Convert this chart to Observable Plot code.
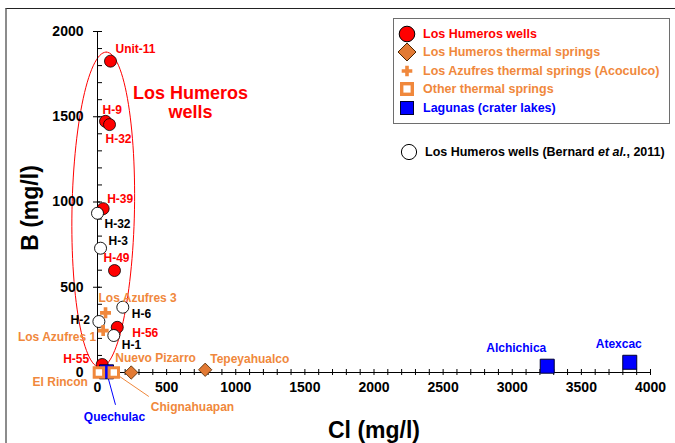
<!DOCTYPE html>
<html>
<head>
<meta charset="utf-8">
<script src="https://cdn.jsdelivr.net/npm/d3@7"></script>
<script src="https://cdn.jsdelivr.net/npm/@observablehq/plot@0.6"></script>
<style>
  html, body { margin: 0; padding: 0; background: #fff; }
  #wrap { position: relative; width: 675px; height: 443px; overflow: hidden; font-family: "Liberation Sans", Arial, sans-serif; }
  #frame { position: absolute; left: 5px; top: 8px; width: 720px; height: 520px; border-left: 2px solid #8c8c8c; border-top: 1px solid #222; box-sizing: border-box; }
  #chart { position: absolute; left: 0; top: 0; }
  #legend { position: absolute; left: 393px; top: 18px; width: 277px; height: 106px; border: 1.5px solid #6e6e6e; box-sizing: border-box; background: #fff; }
  .row { position: absolute; left: 0; height: 18px; width: 275px; }
  .row svg { position: absolute; left: 4px; top: 0; }
  .row span { position: absolute; left: 29px; top: 0; line-height: 18px; font-size: 12.5px; font-weight: bold; white-space: nowrap; }
  #bern { position: absolute; left: 399px; top: 143px; height: 18px; width: 275px; }
  #bern svg { position: absolute; left: 0; top: 0; }
  #bern span { position: absolute; left: 26px; top: 0; line-height: 18px; font-size: 12.5px; font-weight: bold; white-space: nowrap; color: #000; }
</style>
</head>
<body>
<div id="wrap">
  <div id="frame"></div>
  <div id="chart"></div>
  <div id="legend"></div>
  <div id="bern"></div>
</div>
<script>
// ---------------- data ----------------
const wellNames = ["Unit-11", "H-9", "H-32", "H-39", "H-49", "H-56", "H-55"];
const wellCl    = [94, 58, 87, 41, 123, 143, 34];
const wellB     = [1826, 1473, 1454, 961, 598, 265, 47];

const bernardNames = ["H-32", "H-3", "H-6", "H-2", "H-1"];
const bernardCl    = [0, 22, 183, 10, 118];
const bernardB     = [934, 729, 383, 299, 217];

const azufresNames = ["Los Azufres 3", "Los Azufres 1"];
const azufresCl    = [58, 41];
const azufresB     = [350, 246];

const springNames = ["Nuevo Pizarro", "Tepeyahualco"];
const springCl    = [244, 779];
const springB     = [0, 16];

const otherNames = ["El Rincon", "Chignahuapan"];
const otherCl    = [10, 118];
const otherB     = [0, 0];

const lagunaNames = ["Quechulac", "Alchichica", "Atexcac"];
const lagunaCl    = [65, 3253, 3850];
const lagunaB     = [4, 37, 60];

const xMajorTicks = [0, 500, 1000, 1500, 2000, 2500, 3000, 3500, 4000];
const yMajorTicks = [0, 500, 1000, 1500, 2000];
const xMinorStep = 100, yMinorStep = 100;

// outline drawn around the Los Humeros wells (top, bottom, half width in Cl units)
const ellipseTop = [63, 1879];
const ellipseBottom = [20, 29];
const ellipseHalfWidth = 226;

// ---------------- layout ----------------
const W = 675, H = 443;
const mL = 97, mR = 25, mT = 31, mB = 71;
const kx = (W - mL - mR) / 4000, ky = (H - mT - mB) / 2000;

const RED = "#FF0000", ORANGE = "#F0883C", DIAMOND = "#E27A34", BLUE = "#0000FF";
const FONT = "Liberation Sans, Arial, sans-serif";

const rows = (names, cl, b) => names.map((name, i) => ({name, cl: cl[i], b: b[i]}));
const wells = rows(wellNames, wellCl, wellB);
const bernard = rows(bernardNames, bernardCl, bernardB);
const azufres = rows(azufresNames, azufresCl, azufresB);
const springs = rows(springNames, springCl, springB);
const others = rows(otherNames, otherCl, otherB);
const lagunas = rows(lagunaNames, lagunaCl, lagunaB);

// label placement: [anchor, dx, dy] in pixels
const labelLayout = [
  [wells, RED, {"Unit-11": ["start", 5, -12], "H-9": ["start", -3, -11], "H-32": ["start", -4, 15], "H-39": ["start", 4, -9], "H-49": ["start", -11, -12], "H-56": ["start", 15, 6], "H-55": ["end", -13, -5]}],
  [bernard, "#000", {"H-32": ["start", 7, 11], "H-3": ["start", 8, -7], "H-6": ["start", 9, 7], "H-2": ["end", -9, -1], "H-1": ["start", 8, 10]}],
  [azufres, ORANGE, {"Los Azufres 3": ["start", -7, -15], "Los Azufres 1": ["end", -7, 7]}],
  [springs, ORANGE, {"Nuevo Pizarro": ["start", -16, -14], "Tepeyahualco": ["start", 5, -11]}],
  [others, ORANGE, {"El Rincon": ["end", -11, 10], "Chignahuapan": ["start", 37, 35]}],
  [lagunas, BLUE, {"Quechulac": ["middle", 8, 45], "Alchichica": ["start", -61, -18], "Atexcac": ["middle", -11, -18]}]
];

// leader lines: [row, color, start px offset, end px offset]
const leaders = [
  [others[1], ORANGE, [0, 0], [35, 24]],
  [lagunas[0], BLUE, [0, 0], [9, 33]]
];

// ellipse path (parametric outline)
const eC = [(ellipseTop[0] + ellipseBottom[0]) / 2, (ellipseTop[1] + ellipseBottom[1]) / 2];
const eM = [(ellipseTop[0] - ellipseBottom[0]) / 2, (ellipseTop[1] - ellipseBottom[1]) / 2];
const ellipse = d3.range(0, 361, 3).map(a => {
  const t = a * Math.PI / 180;
  return {cl: eC[0] + Math.cos(t) * eM[0] + Math.sin(t) * ellipseHalfWidth, b: eC[1] + Math.cos(t) * eM[1]};
});

const labelMarks = [];
for (const [data, color, layout] of labelLayout) {
  for (const d of data) {
    const [anchor, dx, dy] = layout[d.name];
    labelMarks.push(Plot.text([d], {x: "cl", y: "b", text: "name", textAnchor: anchor, dx, dy,
      fill: color, fontSize: 12, fontWeight: "bold", fontFamily: FONT}));
  }
}
const leaderMarks = leaders.map(([d, color, s, e]) => Plot.link([d], {
  x1: r => r.cl + s[0] / kx, y1: r => r.b - s[1] / ky,
  x2: r => r.cl + e[0] / kx, y2: r => r.b - e[1] / ky,
  stroke: color, strokeWidth: 1
}));

const chart = Plot.plot({
  width: W, height: H,
  marginLeft: mL, marginRight: mR, marginTop: mT, marginBottom: mB,
  x: {domain: [0, 4000]},
  y: {domain: [0, 2000]},
  style: {fontFamily: FONT, background: "transparent", overflow: "visible", color: "#000"},
  marks: [
    Plot.line(ellipse, {x: "cl", y: "b", stroke: RED, strokeWidth: 1, curve: "catmull-rom"}),
    Plot.ruleY([0], {stroke: "#000", strokeWidth: 1}),
    Plot.ruleX([0], {stroke: "#000", strokeWidth: 1}),
    Plot.axisX(d3.range(0, 4001, xMinorStep), {tickSize: 6, dy: -3, tickFormat: () => "", label: null, stroke: "#000"}),
    Plot.axisX(xMajorTicks, {tickSize: 0, tickPadding: 10, tickFormat: d => String(d), fontSize: 14, fontWeight: "bold", label: null, fill: "#000"}),
    Plot.axisY(d3.range(0, 2001, yMinorStep), {tickSize: 5, dx: 5, tickFormat: () => "", label: null, stroke: "#000"}),
    Plot.axisY(yMajorTicks, {tickSize: 7, dx: 3, tickFormat: () => "", label: null, stroke: "#000"}),
    Plot.axisY(yMajorTicks, {tickSize: 0, tickPadding: 14, tickFormat: d => String(d), fontSize: 14, fontWeight: "bold", label: null, fill: "#000"}),
    Plot.text(["Cl (mg/l)"], {frameAnchor: "bottom", textAnchor: "middle", lineAnchor: "middle", dy: 58, fontSize: 23, fontWeight: "bold", fill: "#000"}),
    Plot.text(["B (mg/l)"], {frameAnchor: "left", textAnchor: "middle", lineAnchor: "middle", dx: -67, dy: 6, rotate: -90, fontSize: 23, fontWeight: "bold", fill: "#000"}),
    Plot.text(["Los Humeros\nwells"], {frameAnchor: "top-left", textAnchor: "middle", lineAnchor: "middle", dx: 93, dy: 71, fontSize: 18, lineHeight: 1.06, fontWeight: "bold", fill: RED}),
    ...leaderMarks,
    Plot.dot(wells, {x: "cl", y: "b", r: 6, fill: RED, stroke: "#000", strokeWidth: 0.8}),
    Plot.dot(bernard, {x: "cl", y: "b", r: 6, fill: "#fff", stroke: "#000", strokeWidth: 0.9}),
    Plot.dot(azufres, {x: "cl", y: "b", r: 4.6, symbol: "cross", fill: ORANGE, stroke: "none"}),
    Plot.dot(springs, {x: "cl", y: "b", r: 6, symbol: "diamond2", fill: DIAMOND, stroke: "#4a2500", strokeWidth: 0.8}),
    Plot.dot(lagunas, {x: "cl", y: "b", r: 7.9, symbol: "square", fill: BLUE, stroke: "#000030", strokeWidth: 1}),
    Plot.dot(others, {x: "cl", y: "b", r: 5.3, symbol: "square", fill: "#fff", stroke: ORANGE, strokeWidth: 3}),
    ...labelMarks
  ]
});
document.getElementById("chart").appendChild(chart);

// ---------------- legend ----------------
const legendItems = [
  {label: "Los Humeros wells", color: RED, sym: `<circle cx="9" cy="9" r="7.8" fill="${RED}" stroke="#000" stroke-width="1"/>`},
  {label: "Los Humeros thermal springs", color: ORANGE, sym: `<path d="M9,0 L18,9 L9,18 L0,9 Z" fill="${DIAMOND}" stroke="#4a2500" stroke-width="1"/>`},
  {label: "Los Azufres thermal springs (Acoculco)", color: ORANGE, sym: `<path d="M7.2,3.7h3.6v3.5h3.5v3.6h-3.5v3.5h-3.6v-3.5h-3.5v-3.6h3.5z" fill="${ORANGE}"/>`},
  {label: "Other thermal springs", color: ORANGE, sym: `<rect x="3.7" y="3.7" width="10.6" height="10.6" fill="#fff" stroke="${ORANGE}" stroke-width="3.4"/>`},
  {label: "Lagunas (crater lakes)", color: BLUE, sym: `<rect x="2.5" y="2.5" width="13" height="13" fill="${BLUE}" stroke="#000030" stroke-width="1"/>`}
];
const rowTops = [6, 24, 43, 61, 80];
const legend = document.getElementById("legend");
legendItems.forEach((it, i) => {
  const row = document.createElement("div");
  row.className = "row";
  row.style.top = rowTops[i] + "px";
  row.innerHTML = `<svg width="18" height="18" viewBox="0 0 18 18">${it.sym}</svg><span style="color:${it.color}">${it.label}</span>`;
  legend.appendChild(row);
});
document.getElementById("bern").innerHTML =
  `<svg width="20" height="18" viewBox="0 0 20 18"><circle cx="10" cy="9" r="7.6" fill="#fff" stroke="#000" stroke-width="1"/></svg>` +
  `<span>Los Humeros wells (Bernard <i>et al.</i>, 2011)</span>`;
</script>
</body>
</html>
